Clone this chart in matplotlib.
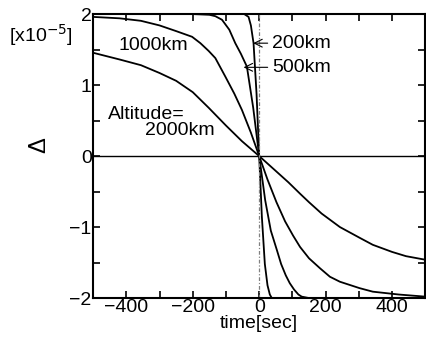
import matplotlib

matplotlib.use("Agg")
import matplotlib.pyplot as plt
from matplotlib.ticker import FixedLocator, MultipleLocator

plt.rcParams["font.family"] = ["Liberation Sans", "DejaVu Sans"]
plt.rcParams["font.size"] = 14

# Delta in units of 1e-5
t_2000 = [-500, -420, -356, -300, -250, -200, -152, -100, -52, 0,
          50, 88, 123, 150, 188, 243, 302, 342, 400, 442, 500]
d_2000 = [1.455, 1.36, 1.28, 1.17, 1.06, 0.90, 0.68, 0.43, 0.21, 0.0,
          -0.21, -0.37, -0.53, -0.65, -0.81, -1.00, -1.15, -1.25, -1.35, -1.41, -1.46]

t_1000 = [-500, -420, -356, -300, -250, -202, -177, -152, -132, -102, -75, -52, -25, 0,
          25, 52, 78, 102, 123, 150, 183, 213, 243, 302, 342, 420, 500]
d_1000 = [1.96, 1.94, 1.905, 1.84, 1.76, 1.68, 1.59, 1.48, 1.38, 1.12, 0.88, 0.65, 0.33, 0.0,
          -0.33, -0.65, -0.92, -1.12, -1.28, -1.44, -1.58, -1.70, -1.77, -1.86, -1.91, -1.95, -1.98]

t_500 = [-500, -200, -150, -132, -112, -90, -72, -55, -37, -18, 0,
         18, 35, 53, 66, 80, 92, 105, 118, 128, 150, 200, 500]
d_500 = [2.0, 2.0, 1.99, 1.97, 1.92, 1.78, 1.59, 1.44, 1.26, 0.68, 0.0,
         -0.62, -1.05, -1.32, -1.52, -1.68, -1.79, -1.88, -1.95, -1.98, -2.0, -2.0, -2.0]

t_200 = [-500, -45, -32, -25, -17, -8, 0, 8, 17, 25, 32, 38, 500]
d_200 = [2.0, 2.0, 1.96, 1.84, 1.59, 0.88, 0.0, -0.85, -1.52, -1.82, -1.95, -2.0, -2.0]

x_ticks = [-400, -200, 0, 200, 400]
y_ticks = [-2, -1, 0, 1, 2]

fig = plt.figure(figsize=(4.27, 3.43), dpi=100)
ax = fig.add_axes([0.218, 0.131, 0.778, 0.828])

for t, d in [(t_2000, d_2000), (t_1000, d_1000), (t_500, d_500), (t_200, d_200)]:
    ax.plot(t, d, color="black", linewidth=1.3)

ax.axhline(0, color="black", linewidth=1.0)
ax.axvline(0, color="0.5", linewidth=0.9, linestyle=(0, (3, 1.5, 1, 1.5)))

ax.set_xlim(-500, 500)
ax.set_ylim(-2, 2)
ax.xaxis.set_major_locator(FixedLocator(x_ticks))
ax.xaxis.set_minor_locator(MultipleLocator(100))
ax.yaxis.set_major_locator(FixedLocator(y_ticks))
ax.yaxis.set_minor_locator(MultipleLocator(0.5))
ax.tick_params(which="both", direction="in", top=True, right=True,
               length=5, width=1.2, pad=1)
for spine in ax.spines.values():
    spine.set_linewidth(1.5)

ax.set_xlabel("time[sec]", labelpad=-1)
ax.set_ylabel("Δ", rotation=90, fontsize=17)
ax.yaxis.set_label_coords(-0.13, 0.54)
fig.text(0.022, 0.878, "[x10$^{-5}$]", fontsize=14)

ax.text(-320, 1.56, "1000km", ha="center", va="center")
ax.text(-455, 0.58, "Altitude=", ha="left", va="center")
ax.text(-135, 0.36, "2000km", ha="right", va="center")
ax.annotate("200km", xy=(-18, 1.59), xytext=(38, 1.59), va="center",
            arrowprops=dict(arrowstyle="->", color="black", lw=0.8,
                            shrinkA=1, shrinkB=0))
ax.annotate("500km", xy=(-47, 1.25), xytext=(38, 1.25), va="center",
            arrowprops=dict(arrowstyle="->", color="black", lw=0.8,
                            shrinkA=1, shrinkB=0))

fig.savefig("out.png", dpi=100)
